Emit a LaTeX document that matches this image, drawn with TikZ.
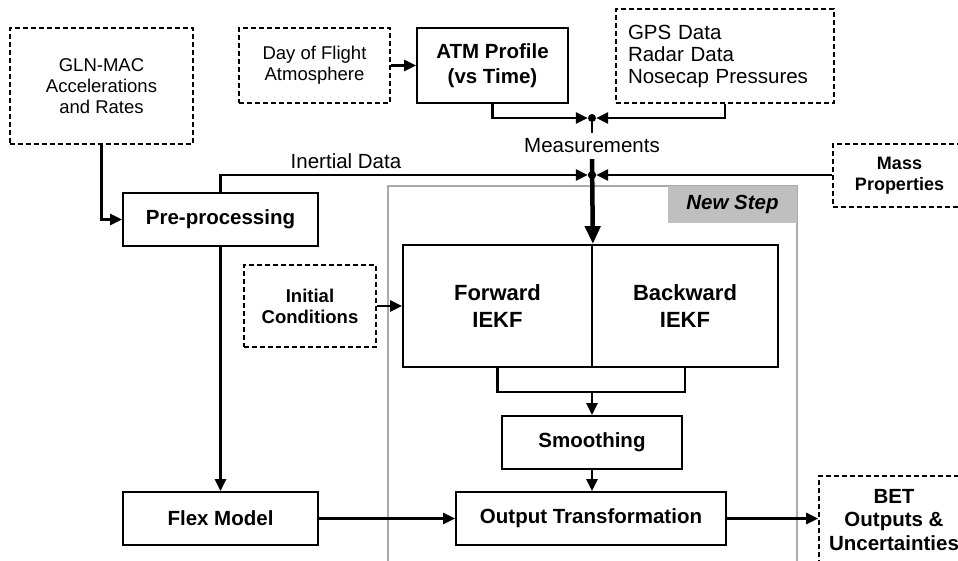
\documentclass[tikz,border=0pt]{standalone}
\usepackage{fontspec}
\setmainfont{Liberation Sans}
\usetikzlibrary{arrows.meta}
\definecolor{stepgray}{RGB}{170,170,170}
\definecolor{labelgray}{RGB}{191,191,191}
\newcommand\fbig{\fontsize{20.5}{25}\selectfont}
\newcommand\fmid{\fontsize{18.5}{21}\selectfont}
\newcommand\fsml{\fontsize{18}{21.5}\selectfont}
\newcommand\fiekf{\fontsize{22}{27}\selectfont}
\begin{document}
\begin{tikzpicture}[x=1pt,y=-1pt,
  solidbox/.style={draw, line width=1.8pt, inner sep=0pt, align=center, font=\fbig\bfseries},
  dashbox/.style={draw, line width=1.6pt, dash pattern=on 5pt off 3pt, inner sep=0pt, align=center},
  conn/.style={line width=2.6pt, -{Triangle[length=12pt,width=11pt]}},
  plain/.style={line width=2.6pt},
  bigconn/.style={line width=4.5pt, -{Triangle[length=18pt,width=15pt]}},
  junction/.style={circle, fill, inner sep=0pt, minimum size=8pt},
  sz/.style 2 args={minimum width=#1, minimum height=#2},
]
\useasboundingbox (0,0) rectangle (958,561);

% New Step frame
\node[draw=stepgray, line width=2.6pt, inner sep=0pt, sz={409pt}{400pt}] (frame) at (592.5,386) {};
\node[fill=labelgray, inner sep=0pt, sz={129pt}{37pt}, font=\fbig\bfseries\itshape] (steplabel) at (732.5,204.5) {New Step};

% Input boxes
\node[dashbox, sz={183pt}{116pt}, font=\fmid] (gln) at (101.5,86) {GLN-MAC\\Accelerations\\and Rates};
\node[dashbox, sz={151pt}{75pt}, font=\fmid] (dof) at (314.5,65.5) {Day of Flight\\Atmosphere};
\node[solidbox, sz={151pt}{75pt}] (atm) at (492.5,65.5) {ATM Profile\\(vs Time)};
\node[dashbox, align=left, text width=194pt, inner sep=12pt, minimum height=94pt, font=\fontsize{20.5}{22}\selectfont] (gps) at (725,56) {GPS Data\\Radar Data\\Nosecap Pressures};
\node[dashbox, sz={133pt}{63pt}, font=\fsml\bfseries] (mass) at (899.5,175.5) {Mass\\Properties};

% Junctions
\node[junction] (j1) at (592,118) {};
\node[inner sep=0pt, minimum height=26pt, font=\fbig] (meas) at (592,146) {Measurements};
\node[junction] (j2) at (592,175) {};

% Process boxes
\node[solidbox, sz={195pt}{53pt}] (pre) at (220.5,219.5) {Pre-processing};
\node[solidbox, sz={189pt}{122pt}, font=\fiekf\bfseries] (fwd) at (497.5,306) {Forward\\IEKF};
\node[solidbox, sz={186pt}{122pt}, font=\fiekf\bfseries] (bwd) at (685,306) {Backward\\IEKF};
\node[dashbox, sz={132pt}{82pt}, font=\fmid\bfseries] (init) at (310,306) {Initial\\Conditions};
\node[solidbox, sz={180pt}{53pt}] (smooth) at (592,442.5) {Smoothing};
\node[solidbox, sz={270pt}{53pt}] (out) at (591,518.5) {Output Transformation};
\node[solidbox, sz={195pt}{53pt}] (flex) at (220.5,518.5) {Flex Model};
\node[dashbox, sz={150pt}{88pt}, font=\fontsize{20.5}{23.5}\selectfont\bfseries] (bet) at (894,520) {BET\\Outputs \&\\Uncertainties};

% Connector label
\node[font=\fbig, inner sep=0pt] (inlabel) at (346,161) {Inertial Data};

% Connectors
\draw[conn] (gln.south) |- (pre.west);
\draw[conn] (dof.east) -- (atm.west);
\draw[conn] (atm.south) |- (j1);
\draw[conn] (gps.south) |- (j1);
\draw[plain] (j1) -- (meas.north);
\draw[conn] (pre.north) |- (j2);
\draw[conn] (mass.west |- j2) -- (j2);
\draw[bigconn] (meas.south) -- (fwd.north east);
\node[junction] at (j2) {};
\draw[conn] (init.east) -- (fwd.west);
\coordinate (merge) at (592,392);
\draw[plain] (fwd.south) |- (merge) -| (bwd.south);
\draw[conn] (merge) -- (smooth.north);
\draw[conn] (smooth.south) -- (smooth.south |- out.north);
\draw[conn] (pre.south) -- (flex.north);
\draw[conn] (flex.east) -- (out.west);
\draw[conn] (out.east) -- (out.east -| bet.west);
\end{tikzpicture}
\end{document}
